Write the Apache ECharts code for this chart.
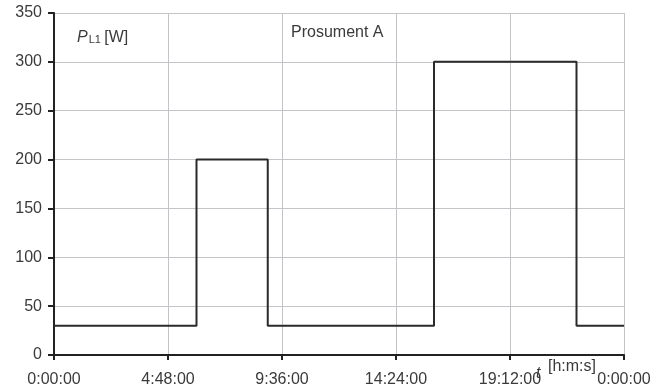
<!DOCTYPE html>
<html><head><meta charset="utf-8">
<script src="https://cdn.jsdelivr.net/npm/echarts@6/dist/echarts.min.js"></script>
<style>html,body{margin:0;padding:0;background:#fff}#c{width:668px;height:391px}</style>
</head><body><div id="c"></div>
<script>
// Data (hours, watts) - step changes
const stepTimesH = [0, 6, 6, 9, 9, 16, 16, 22, 22, 24];
const powerW     = [30, 30, 200, 200, 30, 30, 300, 300, 30, 30];
const xTickIntervalH = 4.8;
const yTicks = [0, 50, 100, 150, 200, 250, 300, 350];

function fmt(h) {
  let s = Math.round(h * 3600) % 86400;
  const hh = Math.floor(s / 3600), mm = Math.floor((s % 3600) / 60), ss = s % 60;
  return hh + ':' + String(mm).padStart(2, '0') + ':' + String(ss).padStart(2, '0');
}

const chart = echarts.init(document.getElementById('c'));
const font = 'Liberation Sans, Arial, sans-serif';
const tc = '#3a3a3a';
chart.setOption({
  animation: false,
  grid: { left: 54, right: 44, top: 13, bottom: 36 },
  xAxis: {
    type: 'value', min: 0, max: 24, interval: xTickIntervalH,
    axisLine: { show: true, onZero: false, lineStyle: { color: '#222', width: 2 } },
    axisTick: { show: true, length: 5, lineStyle: { color: '#222', width: 2 } },
    axisLabel: { formatter: fmt, color: tc, fontSize: 16, fontFamily: font, margin: 17 },
    splitLine: { show: true, lineStyle: { color: '#c4c4c8', width: 1 } }
  },
  yAxis: {
    type: 'value', min: yTicks[0], max: yTicks[yTicks.length - 1], interval: 50,
    axisLine: { show: true, lineStyle: { color: '#222', width: 2 } },
    axisTick: { show: true, length: 6, lineStyle: { color: '#222', width: 2 } },
    axisLabel: { color: tc, fontSize: 16, fontFamily: font, margin: 12 },
    splitLine: { show: true, lineStyle: { color: '#c4c4c8', width: 1 } }
  },
  series: [{
    type: 'line', symbol: 'none',
    data: stepTimesH.map((t, i) => [t, powerW[i]]),
    lineStyle: { color: '#2a2a2a', width: 2 }
  }],
  graphic: [
    { type: 'text', left: 77, top: 30, style: {
      text: '{p|P}{s|L1} {w|[W]}',
      rich: {
        p: { fontStyle: 'italic', fontSize: 16, fontFamily: font, fill: tc },
        s: { fontSize: 11, fontFamily: font, fill: tc, padding: [4, 0, 0, 1] },
        w: { fontSize: 16, fontFamily: font, fill: tc }
      } } },
    { type: 'text', left: 291, top: 25, style: { text: 'Prosument A', fontSize: 16, fontFamily: font, fill: tc } },
    { type: 'text', left: 536, top: 366, z: 100, style: { text: 't', fontStyle: 'italic', fontSize: 16, fontFamily: font, fill: tc } },
    { type: 'text', left: 548, top: 359, z: 100, style: { text: '[h:m:s]', fontSize: 16, fontFamily: font, fill: tc } }
  ]
});
</script></body></html>
